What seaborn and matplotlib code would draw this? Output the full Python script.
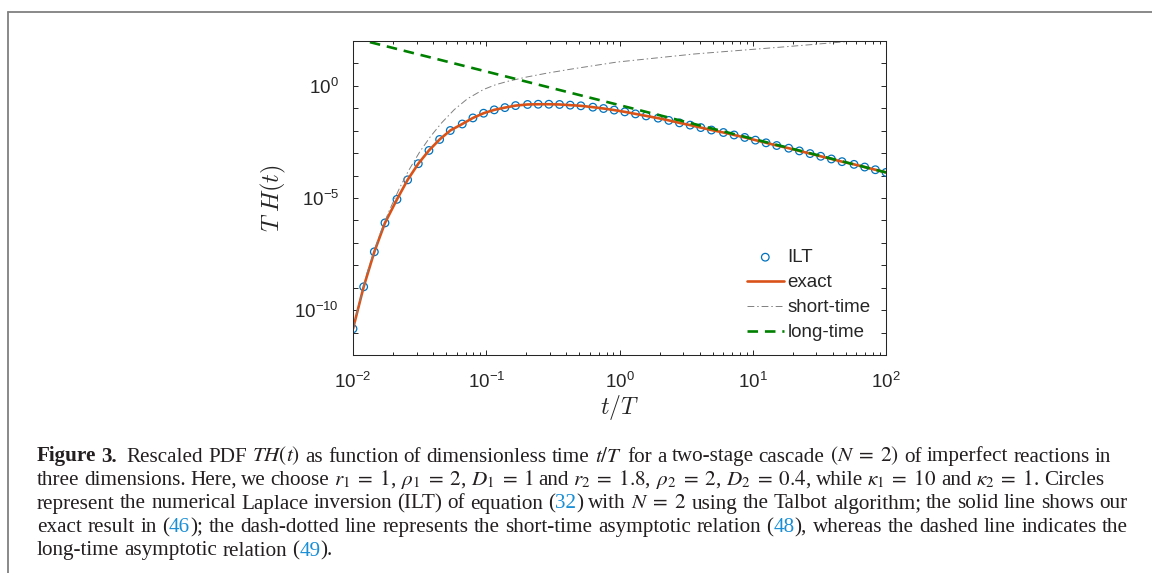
import re
import numpy as np
import pandas as pd
import seaborn as sns
import matplotlib
matplotlib.use("Agg")
import matplotlib.pyplot as plt
from matplotlib.lines import Line2D

# values, stored as log10(t/T) and log10(T H(t))
ilt_logt = [-2.00, -1.92, -1.84, -1.76, -1.67, -1.59, -1.51, -1.43, -1.35, -1.27,
            -1.18, -1.10, -1.02, -0.94, -0.86, -0.78, -0.69, -0.61, -0.53, -0.45,
            -0.37, -0.29, -0.20, -0.12, -0.04, 0.04, 0.12, 0.20, 0.29, 0.37,
            0.45, 0.53, 0.61, 0.69, 0.78, 0.86, 0.94, 1.02, 1.10, 1.18,
            1.27, 1.35, 1.43, 1.51, 1.59, 1.67, 1.76, 1.84, 1.92, 2.00]
ilt_logy = [-10.83, -8.96, -7.40, -6.11, -5.06, -4.19, -3.47, -2.88, -2.39, -1.99,
            -1.70, -1.43, -1.22, -1.07, -0.97, -0.88, -0.83, -0.82, -0.82, -0.83,
            -0.86, -0.89, -0.95, -1.01, -1.08, -1.16, -1.25, -1.34, -1.44, -1.54,
            -1.65, -1.75, -1.86, -1.97, -2.08, -2.19, -2.30, -2.42, -2.54, -2.66,
            -2.78, -2.90, -3.02, -3.14, -3.26, -3.38, -3.50, -3.62, -3.74, -3.86]

short_logt = [-2.00, -1.90, -1.80, -1.73, -1.65, -1.585, -1.50, -1.42, -1.335, -1.24,
              -1.14, -1.02, -0.93, -0.84, -0.70, -0.55, -0.37, -0.02, 0.56, 1.26,
              1.66, 1.74]
short_logy = [-10.83, -8.44, -6.64, -5.59, -4.55, -3.80, -2.95, -2.27, -1.65, -1.06,
              -0.57, -0.16, 0.05, 0.20, 0.39, 0.56, 0.74, 1.06, 1.42, 1.75,
              1.95, 2.00]

long_logt = [-2, -1, 0, 1, 2]
long_logy = [2.14, 0.64, -0.86, -2.36, -3.86]

y_decades = list(range(-12, 3))
y_labelled = [0, -5, -10]

caption = [
    "**Figure **3. Rescaled PDF $TH(t)$ as function of dimensionless time $t/T$ for a two-stage cascade $(N\\;=\\;2)$ of imperfect reactions in",
    "three dimensions. Here, we choose $r_1\\;=\\;1$, $\\rho_1\\;=\\;2$, $D_1\\;=\\;1$ and $r_2\\;=\\;1.8$, $\\rho_2\\;=\\;2$, $D_2\\;=\\;0.4$, while $\\kappa_1\\;=\\;10$ and $\\kappa_2\\;=\\;1$. Circles",
    "represent the numerical Laplace inversion (ILT) of equation ([[32]]) with $N\\;=\\;2$ using the Talbot algorithm; the solid line shows our",
    "exact result in ([[46]]); the dash-dotted line represents the short-time asymptotic relation ([[48]]), whereas the dashed line indicates the",
    "long-time asymptotic relation ([[49]]).",
]
caption_right = [1111, 1104, 1127, 1128, None]

W, H = 1152, 573

sns.set_style("ticks")
plt.rcParams["font.family"] = ["Liberation Sans", "DejaVu Sans"]
plt.rcParams["mathtext.fontset"] = "cm"
plt.rcParams["axes.unicode_minus"] = False

fig = plt.figure(figsize=(W / 100, H / 100), dpi=100)
ax = fig.add_axes([353 / W, 1 - 355 / H, (886 - 353) / W, (355 - 41) / H])
ax.set_xscale("log")
ax.set_yscale("log")

ilt = pd.DataFrame({"t": 10.0 ** np.array(ilt_logt), "y": 10.0 ** np.array(ilt_logy)})
short = pd.DataFrame({"t": 10.0 ** np.array(short_logt), "y": 10.0 ** np.array(short_logy)})
long_ = pd.DataFrame({"t": 10.0 ** np.array(long_logt), "y": 10.0 ** np.array(long_logy)})

sns.scatterplot(data=ilt, x="t", y="y", ax=ax, marker="o", s=30,
                facecolor="none", edgecolor="#0072BD", linewidth=0.9, label="ILT")
sns.lineplot(data=ilt, x="t", y="y", ax=ax, color="#D95319", linewidth=1.9,
             sort=False, estimator=None, label="exact")
sns.lineplot(data=short, x="t", y="y", ax=ax, color="0.5", linewidth=0.7,
             linestyle=(0, (7, 3, 1.5, 3)), sort=False, estimator=None, label="short-time")
sns.lineplot(data=long_, x="t", y="y", ax=ax, color="#008000", linewidth=1.9,
             linestyle=(0, (4, 2.6)), sort=False, estimator=None, label="long-time")

ax.set_xlim(1e-2, 1e2)
ax.set_ylim(1e-12, 1e2)
ax.set_yticks([10.0 ** k for k in y_decades])
ax.set_yticklabels([r"$\mathdefault{10^{%d}}$" % k if k in y_labelled else "" for k in y_decades])
ax.yaxis.set_minor_locator(matplotlib.ticker.NullLocator())

ax.tick_params(which="both", direction="in", top=True, right=True, color="#262626",
               labelcolor="#262626", labelsize=13.5, width=0.7)
ax.tick_params(which="major", length=3.6)
ax.tick_params(which="minor", length=2.2)
ax.tick_params(axis="x", pad=12)
ax.tick_params(axis="y", pad=10)
for sp in ax.spines.values():
    sp.set_color("#262626")
    sp.set_linewidth(0.75)
    sp.set_visible(True)

ax.set_xlabel(r"$t/T$", fontsize=17, color="#262626")
ax.set_ylabel(r"$T\;H(t)$", fontsize=17.5, color="#262626")
ax.xaxis.set_label_coords(0.5, -0.12)
ax.yaxis.set_label_coords(-0.122, 0.5)

ax.legend(loc="upper left", bbox_to_anchor=(747 / W, 1 - 249 / H), bbox_transform=fig.transFigure,
          frameon=False, fontsize=13.5, handlelength=1.95, handletextpad=0.2,
          labelspacing=0.42, borderpad=0, borderaxespad=0)

# outer frame (top and left edges are the only ones inside the crop)
fig.add_artist(Line2D([8 / W, 1], [1 - 12 / H, 1 - 12 / H], color="#808080", lw=1.3,
                      transform=fig.transFigure))
fig.add_artist(Line2D([8 / W, 8 / W], [1 - 12 / H, 0], color="#808080", lw=1.3,
                      transform=fig.transFigure))

# caption, laid out word by word so each line can be stretched to its right edge
renderer = fig.canvas.get_renderer()
cap_fs = 15.2
cap_blue = "#1a8fd6"
cap_left = 37
cap_base = [461.5, 485, 508.5, 532, 555.5]


def cap_text(s, color="#231f20", weight="normal"):
    t = fig.text(0, 0, s, ha="left", va="baseline", fontsize=cap_fs, color=color,
                 family="Liberation Serif", weight=weight, math_fontfamily="stix")
    return t, t.get_window_extent(renderer).width


probe1, w1 = cap_text("a a")
probe2, w2 = cap_text("aa")
space = w1 - w2
probe1.remove()
probe2.remove()

for line, right, base in zip(caption, caption_right, cap_base):
    words = []
    for word in line.split(" "):
        weight = "normal"
        if word.startswith("**"):
            word = word[2:]
            weight = "bold"
        parts = re.split(r"\[\[(.*?)\]\]", word)
        pieces = []
        for i, p in enumerate(parts):
            if p == "":
                continue
            pieces.append(cap_text(p, color=cap_blue if i % 2 else "#231f20", weight=weight))
        words.append((pieces, weight))
    widths = [sum(w for _, w in pcs) for pcs, _ in words]
    extra = 4 if line.startswith("**Figure") else 0
    gap = space
    if right is not None:
        gap = (right - cap_left - sum(widths) - extra) / (len(words) - 1)
    x = cap_left
    for k, (pcs, weight) in enumerate(words):
        for t, w in pcs:
            t.set_position((x / W, 1 - base / H))
            x += w
        x += gap
        if k == 1 and extra:
            x += extra

fig.savefig("out.png", dpi=100)
